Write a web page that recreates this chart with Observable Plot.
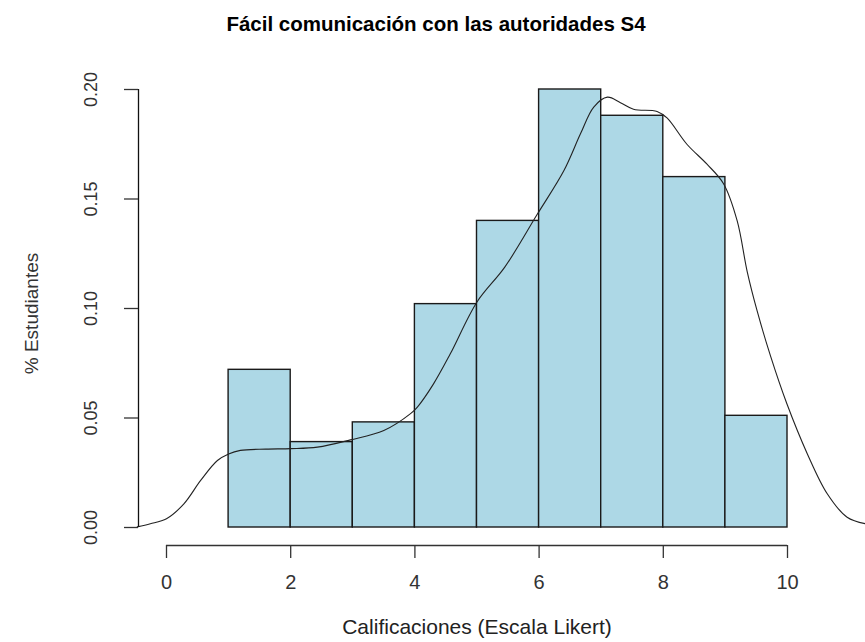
<!DOCTYPE html>
<html>
<head>
<meta charset="utf-8">
<script src="https://cdn.jsdelivr.net/npm/d3@7"></script>
<script src="https://cdn.jsdelivr.net/npm/@observablehq/plot@0.6"></script>
<style>
  html, body { margin: 0; padding: 0; background: #fff; overflow: hidden; }
</style>
</head>
<body>
<div id="chart"></div>
<script>
// Histogram bins (Likert score) and densities
const binStart = [1, 2, 3, 4, 5, 6, 7, 8, 9];
const binEnd   = [2, 3, 4, 5, 6, 7, 8, 9, 10];
const density  = [0.072, 0.039, 0.048, 0.102, 0.140, 0.200, 0.188, 0.160, 0.051];

// Kernel density curve
const curveX = [-0.47, -0.26, 0.0, 0.28, 0.55, 0.82, 1.0, 1.19, 1.6, 2.0, 2.43, 2.96, 3.5, 3.93, 4.04, 4.3, 4.57, 5.0, 5.45, 5.97, 6.4, 6.67, 6.88, 7.1, 7.31, 7.52, 7.9, 8.06, 8.38, 8.7, 8.97, 9.19, 9.35, 9.51, 9.73, 9.99, 10.32, 10.64, 10.96, 11.26];
const curveY = [0.0003, 0.0017, 0.004, 0.0108, 0.0215, 0.0306, 0.0336, 0.0352, 0.0358, 0.036, 0.0367, 0.040, 0.0443, 0.052, 0.055, 0.0656, 0.0793, 0.103, 0.119, 0.143, 0.163, 0.180, 0.192, 0.1965, 0.194, 0.191, 0.190, 0.187, 0.175, 0.166, 0.157, 0.140, 0.117, 0.099, 0.078, 0.0565, 0.0336, 0.0154, 0.0047, 0.0017];

// Axis ticks and texts
const xTicks = [0, 2, 4, 6, 8, 10];
const yTicks = [0, 0.05, 0.10, 0.15, 0.20];
const title = "Fácil comunicación con las autoridades S4";
const xLabel = "Calificaciones (Escala Likert)";
const yLabel = "% Estudiantes";

const bins = binStart.map((s, i) => ({x1: s, x2: binEnd[i], y: density[i]}));
const curve = curveX.map((x, i) => ({x, y: curveY[i]}));

const font = "'Liberation Sans', Arial, sans-serif";
const narrow = "'Liberation Sans Narrow', 'Liberation Sans', Arial, sans-serif";

const chart = Plot.plot({
  width: 865,
  height: 642,
  marginLeft: 166,
  marginRight: 78,
  marginTop: 89,
  marginBottom: 115,
  style: {fontFamily: font, background: "#fff", color: "#000"},
  x: {domain: [0, 10], axis: null},
  y: {domain: [0, 0.2], axis: null},
  marks: [
    Plot.rectY(bins, {x1: "x1", x2: "x2", y: "y", fill: "#ADD8E6", stroke: "#1a1a1a", strokeWidth: 1.4}),
    Plot.line(curve, {x: "x", y: "y", stroke: "#222", strokeWidth: 1.1, curve: "catmull-rom"}),
    // x axis
    Plot.ruleY([0], {x1: 0, x2: 10, dy: 18, stroke: "#333", strokeWidth: 1.3}),
    Plot.ruleX(xTicks, {x: d => d, y1: 0, y2: 0, dy: 18, insetBottom: -13, stroke: "#333", strokeWidth: 1.3}),
    Plot.text(xTicks, {x: d => d, y: 0, dy: 55, text: d => String(d), fontSize: 20, fill: "#333", lineAnchor: "middle"}),
    Plot.text([xLabel], {frameAnchor: "bottom", dy: 100, text: d => d, fontSize: 21, fill: "#222", lineAnchor: "middle"}),
    // y axis
    Plot.ruleX([0], {y1: 0, y2: 0.2, dx: -28, stroke: "#111", strokeWidth: 1.3}),
    Plot.ruleY(yTicks, {y: d => d, x1: 0, x2: 0, dx: -28, insetLeft: -14, stroke: "#333", strokeWidth: 1.3}),
    Plot.text(yTicks, {x: 0, y: d => d, dx: -75, text: d => d.toFixed(2), rotate: -90, fontSize: 18, fontFamily: narrow, fill: "#333", textAnchor: "middle", lineAnchor: "middle"}),
    Plot.text([yLabel], {frameAnchor: "left", dx: -135, dy: 5, text: d => d, rotate: -90, fontSize: 19, fontFamily: narrow, fill: "#333", textAnchor: "middle", lineAnchor: "middle"}),
    // title
    Plot.text([title], {frameAnchor: "top", dx: -41, dy: -65, text: d => d, fontSize: 20.5, fontWeight: "bold", fill: "#000", lineAnchor: "middle"})
  ]
});
document.getElementById("chart").appendChild(chart);
</script>
</body>
</html>
